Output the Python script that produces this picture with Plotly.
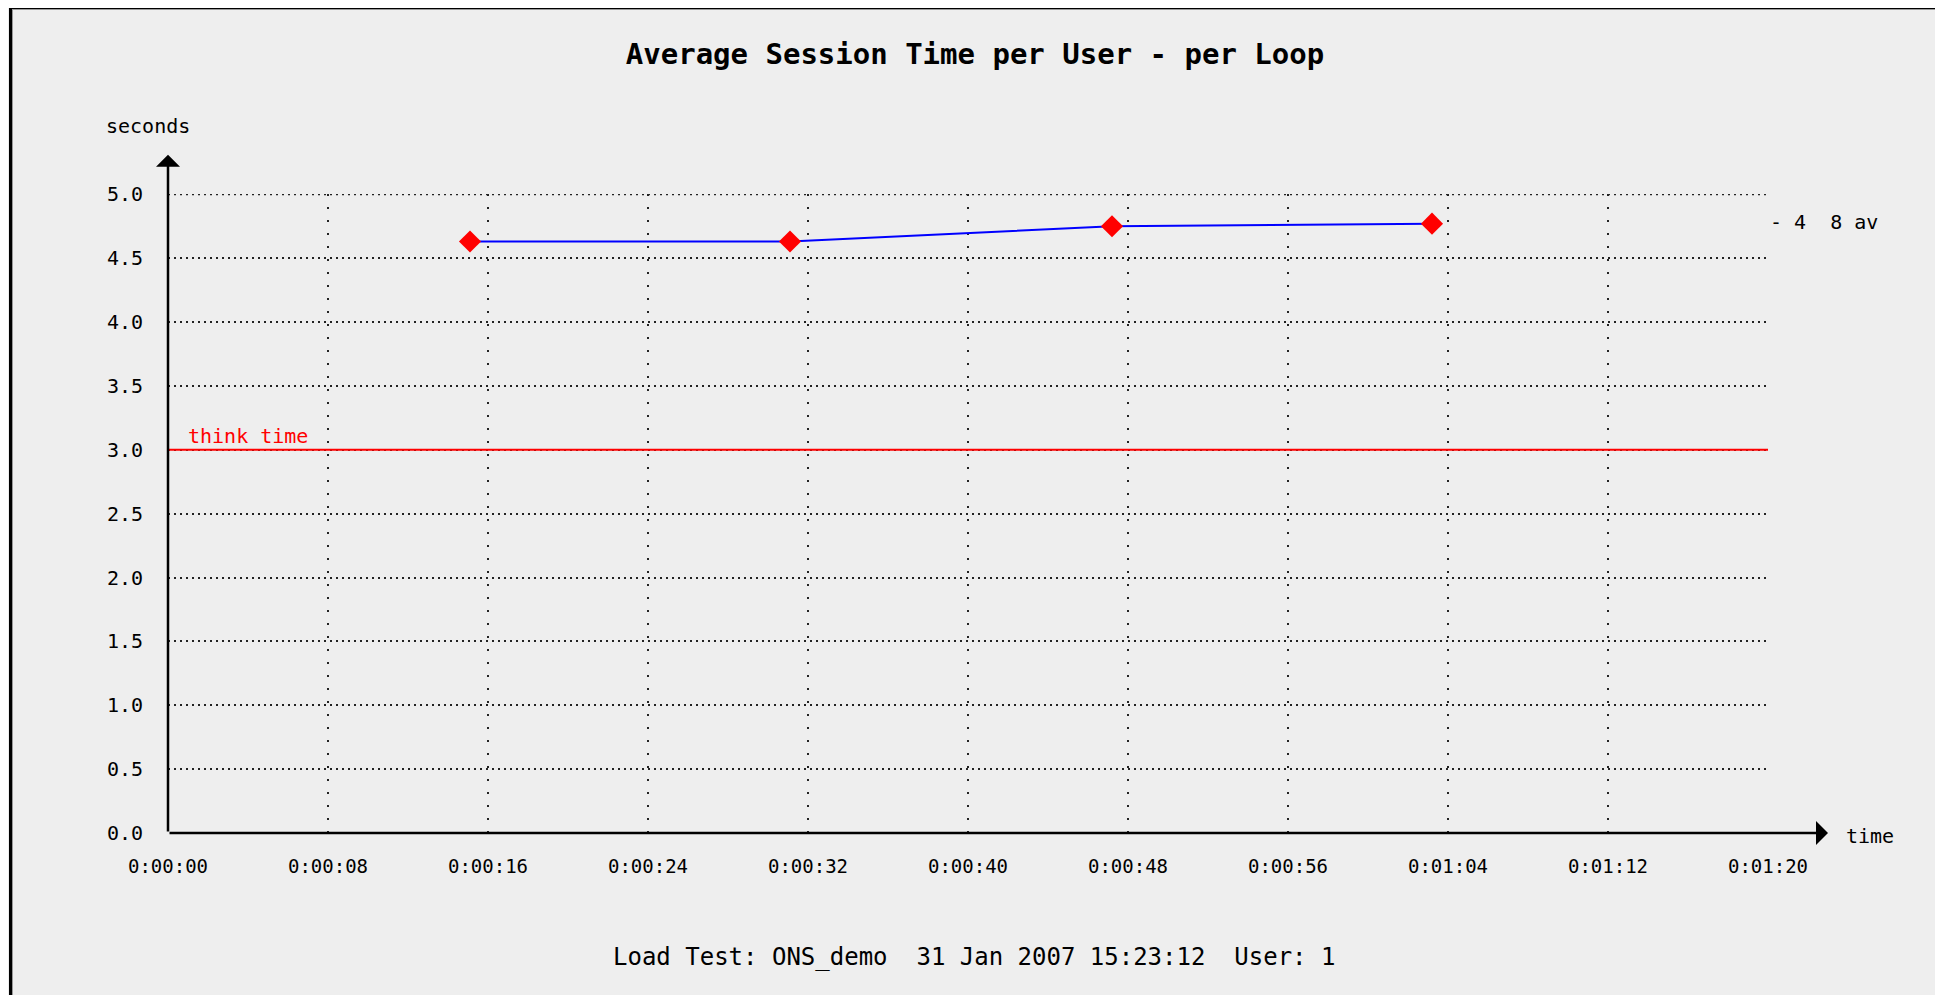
import plotly.graph_objects as go

# ---- data ----
time_s = [15.1, 31.1, 47.2, 63.2]
session_time = [4.63, 4.63, 4.75, 4.77]
think_time = 3.0
x_tickvals = [0, 8, 16, 24, 32, 40, 48, 56, 64, 72, 80]
x_ticktext = ["0:00:00", "0:00:08", "0:00:16", "0:00:24", "0:00:32", "0:00:40",
              "0:00:48", "0:00:56", "0:01:04", "0:01:12", "0:01:20"]
y_tickvals = [0.0, 0.5, 1.0, 1.5, 2.0, 2.5, 3.0, 3.5, 4.0, 4.5, 5.0]
y_ticktext = ["0.0", "0.5", "1.0", "1.5", "2.0", "2.5", "3.0", "3.5", "4.0", "4.5", "5.0"]
avg_label = "- 4  8 av"
avg_value = 4.78

# page has an 8px body margin; lay out in page pixels and shift
OFF = 8
W, H = 1943 - OFF, 995 - OFF
L, R, T, B = 168 - OFF, 1943 - 1768, 194 - OFF, 995 - 833
PW, PH = W - L - R, H - T - B

def px_x(p):
    return (p - OFF - L) / PW

def px_y(p):
    return (H - B - (p - OFF)) / PH

MONO = "DejaVu Sans Mono"
BG = "#EEEEEE"
GRID = "#222222"

fig = go.Figure()
fig.add_trace(go.Scatter(
    x=time_s, y=session_time, mode="lines+markers",
    line=dict(color="#0000FF", width=2),
    marker=dict(symbol="diamond", size=17, color="#FF0000", line=dict(width=0)),
    showlegend=False, cliponaxis=False,
))

shapes = [
    # top gridline (at the edge of the plot area)
    dict(type="line", xref="x", yref="y", x0=0, x1=80, y0=y_tickvals[-1], y1=y_tickvals[-1],
         line=dict(color=GRID, width=2, dash="2px,4px"), layer="below"),
    dict(type="line", xref="x", yref="y", x0=0, x1=80, y0=think_time, y1=think_time,
         line=dict(color="#FF0000", width=2)),
    # frame: black border left/top
    dict(type="rect", xref="paper", yref="paper", x0=px_x(9), x1=px_x(12), y0=px_y(1000), y1=px_y(6),
         fillcolor="black", line=dict(width=0)),
    dict(type="rect", xref="paper", yref="paper", x0=px_x(9), x1=px_x(1950), y0=px_y(9), y1=px_y(6),
         fillcolor="black", line=dict(width=0)),
    dict(type="rect", xref="paper", yref="paper", x0=px_x(12), x1=px_x(13), y0=px_y(1000), y1=px_y(9),
         fillcolor="#999999", line=dict(width=0)),
    dict(type="rect", xref="paper", yref="paper", x0=px_x(12), x1=px_x(1950), y0=px_y(10), y1=px_y(9),
         fillcolor="#999999", line=dict(width=0)),
]

annotations = [
    # axes with arrows
    dict(x=83.0, y=0, ax=0, ay=0, xref="x", yref="y", axref="x", ayref="y", text="",
         showarrow=True, arrowhead=1, arrowsize=1.6, arrowwidth=2.5, arrowcolor="black"),
    dict(x=0, y=5.31, ax=0, ay=0, xref="x", yref="y", axref="x", ayref="y", text="",
         showarrow=True, arrowhead=1, arrowsize=1.6, arrowwidth=2.5, arrowcolor="black"),
    dict(x=0.9, y=think_time, xref="x", yref="y", text="think time", showarrow=False,
         xanchor="left", yanchor="bottom", yshift=0,
         font=dict(family=MONO, size=20, color="#FF0000")),
    dict(x=px_x(104), y=px_y(126), xref="paper", yref="paper", text="seconds", showarrow=False,
         xanchor="left", yanchor="middle", font=dict(family=MONO, size=20, color="black")),
    dict(x=px_x(1844), y=px_y(836), xref="paper", yref="paper", text="time", showarrow=False,
         xanchor="left", yanchor="middle", font=dict(family=MONO, size=20, color="black")),
    dict(x=px_x(1768), y=avg_value, xref="paper", yref="y", text=avg_label, showarrow=False,
         xanchor="left", yanchor="middle", font=dict(family=MONO, size=20, color="black")),
    dict(x=px_x(974), y=px_y(957), xref="paper", yref="paper",
         text="Load Test: ONS_demo  31 Jan 2007 15:23:12  User: 1", showarrow=False,
         xanchor="center", yanchor="middle", font=dict(family=MONO, size=24, color="black")),
]

fig.update_layout(
    width=W, height=H, autosize=False,
    margin=dict(l=L, r=R, t=T, b=B, pad=0),
    paper_bgcolor=BG, plot_bgcolor=BG,
    title=dict(text="<b>Average Session Time per User - per Loop</b>", x=(975 - OFF) / W, xref="container",
               xanchor="center", y=1 - (54 - OFF) / H, yref="container", yanchor="middle",
               font=dict(family=MONO, size=29, color="black")),
    xaxis=dict(range=[0, 80], tickvals=x_tickvals, ticktext=x_ticktext,
               showgrid=True, gridcolor=GRID, gridwidth=2, griddash="2px,11px",
               zeroline=False, showline=False, ticks="outside", ticklen=16, tickcolor=BG,
               tickfont=dict(family=MONO, size=19, color="black")),
    yaxis=dict(range=[0, 5.002], tickvals=y_tickvals, ticktext=y_ticktext,
               showgrid=True, gridcolor=GRID, gridwidth=2, griddash="2px,4px",
               zeroline=False, showline=False, ticks="outside", ticklen=20, tickcolor=BG,
               tickfont=dict(family=MONO, size=20, color="black")),
    shapes=shapes, annotations=annotations,
)

fig.write_html("out.html")
